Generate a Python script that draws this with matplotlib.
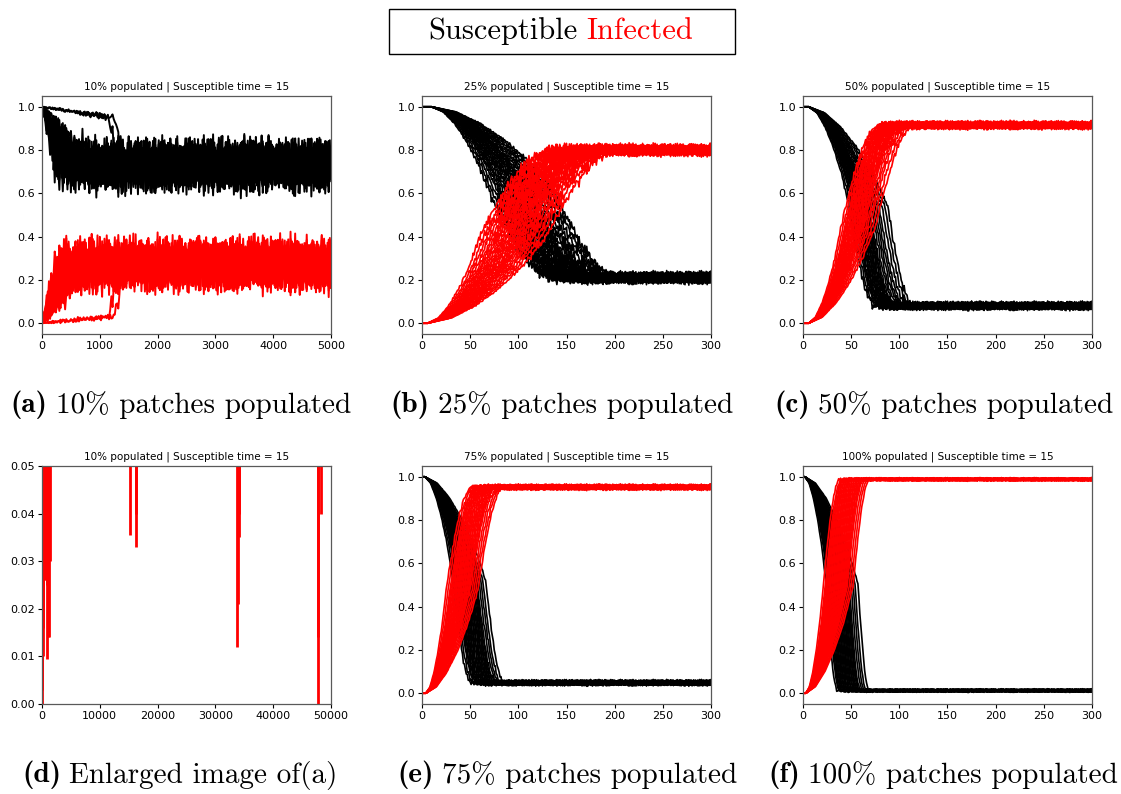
import numpy as np
import matplotlib.pyplot as plt
from matplotlib.patches import Rectangle

plt.rcParams['axes.unicode_minus'] = False

# jitter read roughly off the trace wiggles, in units of the plateau spread
jitter_a = [0.3, -0.5, 0.8, -0.2, -0.9, 0.4, 0.1, -0.6, 0.7, -0.3,
            0.9, -0.8, 0.2, 0.5, -0.4, -0.1, 0.6, -0.7, 0.0, 0.8,
            -0.5, 0.3, -0.9, 0.4, -0.2, 0.7, -0.6, 0.1, 0.5, -0.3,
            0.9, -0.4, -0.8, 0.2, 0.6, -0.1, -0.7, 0.4, 0.0, -0.5,
            0.8, -0.2, 0.3, -0.9, 0.6, -0.4, 0.1, 0.7, -0.6, 0.2]
jitter_b = [-0.4, 0.7, 0.1, -0.8, 0.5, -0.2, 0.9, -0.6, 0.3, 0.0,
            -0.7, 0.6, -0.1, 0.8, -0.5, 0.2, -0.9, 0.4, -0.3, 0.7,
            0.1, -0.6, 0.5, -0.8, 0.3, 0.9, -0.2, -0.5, 0.6, -0.1,
            0.4, -0.7, 0.8, -0.3, 0.2, -0.9, 0.5]

# sweep shape: lower half runs onset -> midpoint, upper half midpoint -> plateau
ramp_u = [0.0, 0.2, 0.4, 0.6, 0.8, 1.0]
ramp_low = [0.0, 0.03, 0.10, 0.20, 0.33, 0.5]
ramp_high = [0.5, 0.65, 0.78, 0.89, 0.96, 1.0]

# (a) 10% populated
a_hold = [0, 0, 0, 0, 0, 0, 0, 0, 0, 0, 0, 0, 0, 0, 0, 0, 1150, 1250]
a_settle = [220, 250, 280, 300, 330, 360, 380, 420, 460, 500, 550, 600, 650, 700, 800, 900,
            1350, 1450]
a_black_level, a_red_level = 0.73, 0.27
a_amp = 0.17

# (b) 25% populated  (red, black)
b_red_mid = [60, 64, 67, 70, 73, 75, 77, 79, 81, 83, 85, 87, 89, 91, 93, 95, 97, 99,
             101, 103, 105, 107, 110, 113, 116, 120, 124, 129]
b_black_mid = [70, 73, 76, 79, 81, 83, 85, 87, 89, 91, 93, 95, 97, 99, 101, 103, 105,
               107, 109, 111, 113, 116, 119, 122, 126, 130, 134, 138]
b_onset = (6, 10)
b_upper = (70, 62)
b_level = (0.80, 0.21)
b_amp = 0.038

# (c) 50% populated
c_red_mid = [40, 42, 44, 45, 46, 47, 48, 49, 50, 51, 52, 53, 54, 55, 56, 57, 58, 59,
             60, 61, 62, 63, 64, 66, 68, 70, 73, 76]
c_black_mid = [48, 50, 52, 53, 54, 55, 56, 57, 58, 59, 60, 61, 62, 63, 64, 65, 66, 67,
               68, 69, 71, 73, 75, 77, 79, 82, 85, 88]
c_onset = (6, 6)
c_upper = (37, 25)
c_level = (0.915, 0.08)
c_amp = 0.026

# (d) enlarged view of (a): where red runs dip below 0.05
d_dip_x = [0, 40, 100, 150, 200, 250, 300, 400, 500, 600, 700, 800, 900, 1000, 1100,
           1200, 1300, 15200, 16200, 16300, 33700, 33850, 34000, 34100, 47700, 47750,
           48300]
d_dip_y = [0.0, 0.003, 0.01, 0.016, 0.02, 0.024, 0.026, 0.031, 0.026, 0.033, 0.03,
           0.0095, 0.025, 0.03, 0.014, 0.014, 0.03, 0.0355, 0.033, 0.040, 0.012, 0.021,
           0.035, 0.04, 0.0, 0.014, 0.040]

# (e) 75% populated
e_red_mid = [25, 27, 29, 30, 31, 32, 33, 34, 35, 36, 37, 38, 39, 40, 41, 42, 43, 44,
             45, 46, 47, 48, 49, 50, 52, 54, 56, 58]
e_black_mid = [32, 34, 36, 37, 38, 39, 40, 41, 42, 43, 44, 45, 46, 47, 48, 49, 50, 51,
               52, 53, 54, 55, 56, 57, 59, 61, 63, 66]
e_onset = (4, 3)
e_upper = (25, 18)
e_level = (0.952, 0.048)
e_amp = 0.018

# (f) 100% populated
f_red_mid = [21, 23, 24, 25, 26, 27, 28, 29, 30, 31, 32, 33, 34, 35, 36, 37, 38, 39,
             40, 41, 42, 43, 44, 45, 46, 48, 50, 52]
f_black_mid = [24, 26, 27, 28, 29, 30, 31, 32, 33, 34, 35, 36, 37, 38, 39, 40, 41, 42,
               43, 44, 45, 46, 47, 48, 50, 52, 54, 57]
f_onset = (3, 2)
f_upper = (16, 11)
f_level = (0.988, 0.012)
f_amp = 0.01

titles = ['10% populated | Susceptible time = 15', '25% populated | Susceptible time = 15',
          '50% populated | Susceptible time = 15', '10% populated | Susceptible time = 15',
          '75% populated | Susceptible time = 15', '100% populated | Susceptible time = 15']
captions = [('(a)', '10% patches populated'), ('(b)', '25% patches populated'),
            ('(c)', '50% patches populated'), ('(d)', 'Enlarged image of(a)'),
            ('(e)', '75% patches populated'), ('(f)', '100% patches populated')]

RED = '#ff0000'
ja = np.array(jitter_a)
jb = np.array(jitter_b)


def wiggle(n, k):
    i = np.arange(n)
    return (0.5 * ja[(i + 7 * k) % len(ja)] + 0.3 * jb[(3 * i + 5 * k) % len(jb)]
            + 0.2 * ja[(7 * i + 3 * k) % len(ja)])


def progress(t, onset, mid, upper):
    lo = np.interp(t, onset + (mid - onset) * np.array(ramp_u), ramp_low)
    hi = np.interp(t, mid + upper * np.array(ramp_u), ramp_high)
    return np.where(t < mid, lo, hi)


def sweep_panel(ax, red_mid, black_mid, onset, upper, level, amp):
    t = np.arange(0, 301, 1)
    for k, m in enumerate(black_mid):
        p = progress(t, onset[1], m, upper[1])
        y = 1.0 + (level[1] - 1.0) * p + amp * np.clip(1.5 * p, 0, 1) * wiggle(len(t), k)
        ax.plot(t, y, color='black', lw=1.2)
    for k, m in enumerate(red_mid):
        p = progress(t, onset[0], m, upper[0])
        y = level[0] * p + amp * np.clip(1.5 * p, 0, 1) * wiggle(len(t), k + 13)
        ax.plot(t, y, color=RED, lw=1.2)
    ax.set_xlim(0, 300)
    ax.set_xticks([0, 50, 100, 150, 200, 250, 300])


def noisy_panel(ax):
    t = np.arange(0, 5001, 20)
    for k in range(len(a_hold)):
        if a_hold[k]:
            kx = [0, a_hold[k], a_settle[k]]
            kb = [1.0, 0.95, a_black_level]
            kr = [0.0, 0.03, a_red_level]
            ks = [0.05, 0.15, 1.0]
        else:
            kx = [0, a_settle[k]]
            kb = [1.0, a_black_level]
            kr = [0.0, a_red_level]
            ks = [0.1, 1.0]
        s = np.interp(t, kx, ks)
        yb = np.interp(t, kx, kb) + a_amp * s * wiggle(len(t), k)
        yr = np.interp(t, kx, kr) + a_amp * s * wiggle(len(t), k + 21)
        ax.plot(t, np.clip(yb, None, 1.0), color='black', lw=1.4)
        ax.plot(t, np.clip(yr, 0.0, None), color=RED, lw=1.4)
    ax.set_xlim(0, 5000)


def text_row(fig, xc, yc, parts, size):
    # lay several differently styled pieces side by side, centred on xc (pixels)
    r = fig.canvas.get_renderer()
    objs = []
    for s, fam, col in parts:
        objs.append(fig.text(0, 1 - yc / H, s, family=fam, fontsize=size, color=col,
                             ha='left', va='center'))
    widths = [o.get_window_extent(r).width for o in objs]
    gap = 0.28 * size * 100 / 72
    x = xc - (sum(widths) + gap * (len(objs) - 1)) / 2
    for o, w in zip(objs, widths):
        o.set_x(x / W)
        x += w + gap


W, H = 1121, 794
fig = plt.figure(figsize=(W / 100, H / 100), dpi=100)

lefts = [42, 422, 803]
tops = [96, 466]
axes = []
for r in range(2):
    for c in range(3):
        ax = fig.add_axes([lefts[c] / W, 1 - (tops[r] + 238) / H, 289 / W, 238 / H])
        axes.append(ax)

noisy_panel(axes[0])
sweep_panel(axes[1], b_red_mid, b_black_mid, b_onset, b_upper, b_level, b_amp)
sweep_panel(axes[2], c_red_mid, c_black_mid, c_onset, c_upper, c_level, c_amp)
sweep_panel(axes[4], e_red_mid, e_black_mid, e_onset, e_upper, e_level, e_amp)
sweep_panel(axes[5], f_red_mid, f_black_mid, f_onset, f_upper, f_level, f_amp)

axd = axes[3]
axd.vlines(d_dip_x, d_dip_y, 0.06, color=RED, lw=2)
axd.set_xlim(0, 50000)
axd.set_ylim(0, 0.05)
axd.set_xticks([0, 10000, 20000, 30000, 40000, 50000])
axd.set_yticks([0, 0.01, 0.02, 0.03, 0.04, 0.05])
axd.yaxis.set_major_formatter(plt.FormatStrFormatter('%.2f'))

for i, ax in enumerate(axes):
    if i != 3:
        ax.set_ylim(-0.05, 1.05)
        ax.set_yticks([0, 0.2, 0.4, 0.6, 0.8, 1.0])
        ax.yaxis.set_major_formatter(plt.FormatStrFormatter('%.1f'))
    ax.set_title(titles[i], fontsize=7.5, pad=5)
    ax.tick_params(labelsize=8, length=3, width=0.8, pad=2)
    for sp in ax.spines.values():
        sp.set_color('0.35')
        sp.set_linewidth(0.9)

# captions under each panel
cap_x = [181, 562, 944, 180, 567, 943]
cap_y = [405, 405, 405, 775, 775, 775]
for i, (tag, txt) in enumerate(captions):
    text_row(fig, cap_x[i], cap_y[i], [(tag, 'cmb10', 'black'), (txt, 'cmr10', 'black')], 21)

# header box naming the two series
fig.add_artist(Rectangle((389 / W, 1 - 54 / H), 346 / W, 45 / H, transform=fig.transFigure,
                         fill=False, edgecolor='black', lw=1.0))
text_row(fig, 561, 31, [('Susceptible', 'cmr10', 'black'), ('Infected', 'cmr10', RED)], 22)

fig.savefig('out.png', dpi=100)
